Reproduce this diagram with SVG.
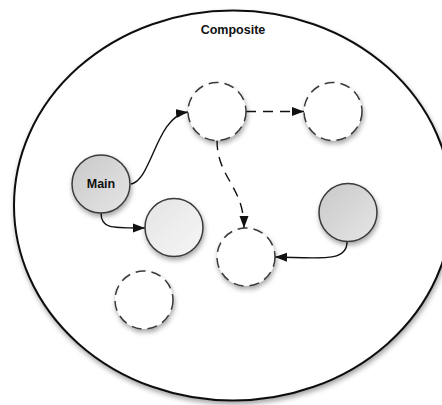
<svg xmlns="http://www.w3.org/2000/svg" width="442" height="405" viewBox="0 0 442 405">
<defs>
<filter id="sh" x="-30%" y="-30%" width="160%" height="160%">
<feDropShadow dx="1" dy="3" stdDeviation="2.5" flood-color="#000" flood-opacity="0.35"/>
</filter>
<linearGradient id="gDark" x1="0" y1="0" x2="1" y2="1">
<stop offset="0" stop-color="#c8c8c8"/>
<stop offset="1" stop-color="#e6e6e6"/>
</linearGradient>
<linearGradient id="gLight" x1="0" y1="0" x2="1" y2="1">
<stop offset="0" stop-color="#e4e4e4"/>
<stop offset="1" stop-color="#f6f6f6"/>
</linearGradient>
<marker id="arr" viewBox="0 0 12 10" refX="12" refY="5" markerWidth="12" markerHeight="10" markerUnits="userSpaceOnUse" orient="auto">
<path d="M0,0.5 L12,5 L0,9.5 Z" fill="#111"/>
</marker>
<style>
.node{stroke:#3a3a3a;stroke-width:1.5;filter:url(#sh)}
.dash{fill:#fff;stroke-dasharray:10 6}
.lbl{font-family:"Liberation Sans",Arial,sans-serif;font-weight:bold;font-size:12.5px;fill:#111;text-anchor:middle}
.edge{fill:none;stroke:#111;stroke-width:1.4;marker-end:url(#arr)}
.edash{stroke-dasharray:10 7}
</style>
</defs>
<rect width="442" height="405" fill="#fff"/>
<g id="composite">
<ellipse cx="233" cy="205.5" rx="219" ry="195" fill="#fff" stroke="#111" stroke-width="2" filter="url(#sh)"/>
<text class="lbl" x="233" y="34">Composite</text>
</g>
<g id="connectors">
<path class="edge" d="M131,184 C152,180 156,116 188,112"/>
<path class="edge" d="M101,213 C101,229 112,228 145,228"/>
<path class="edge edash" d="M246,111.5 L304,111.5"/>
<path class="edge edash" d="M217,140 C217,178 244,186 244,228"/>
<path class="edge" d="M347,242 C347,262 322,258 275,257"/>
</g>
<g id="main"><circle class="node" cx="101" cy="184" r="29" fill="url(#gDark)"/><text class="lbl" x="101" y="188">Main</text></g>
<g id="n1"><circle class="node dash" cx="217" cy="111.5" r="29"/></g>
<g id="n2"><circle class="node dash" cx="333" cy="111.5" r="29"/></g>
<g id="n3"><circle class="node" cx="174" cy="227.5" r="29" fill="url(#gLight)"/></g>
<g id="n4"><circle class="node" cx="348" cy="212.5" r="29" fill="url(#gDark)"/></g>
<g id="n5"><circle class="node dash" cx="246" cy="257" r="29"/></g>
<g id="n6"><circle class="node dash" cx="144" cy="300" r="29"/></g>
</svg>
